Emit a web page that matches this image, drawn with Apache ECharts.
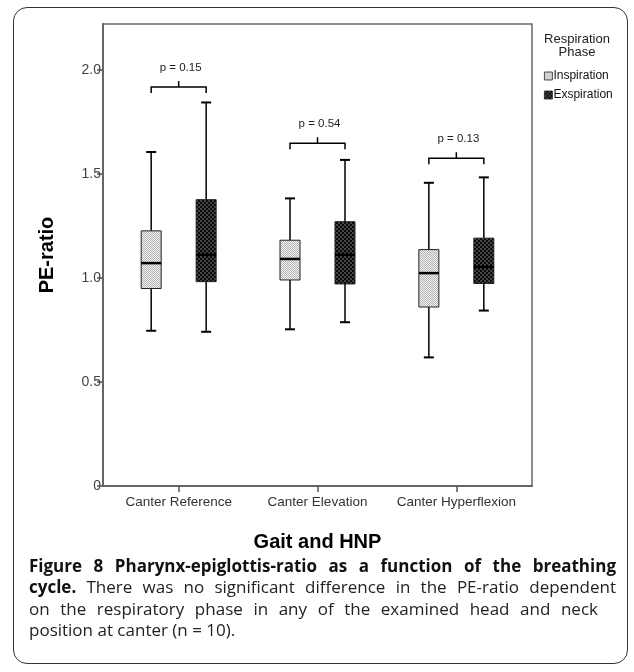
<!DOCTYPE html>
<html>
<head>
<meta charset="utf-8">
<script src="https://cdn.jsdelivr.net/npm/echarts@6/dist/echarts.min.js"></script>
<style>
  body { margin: 0; background: #fff; }
  #wrap { position: relative; width: 634px; height: 672px; background: #fff; overflow: hidden; }
  #frame { position: absolute; left: 13px; top: 7px; width: 615px; height: 657px; box-sizing: border-box;
           border: 1.5px solid #333; border-radius: 14px; }
  #chart { position: absolute; left: 0; top: 0; width: 634px; height: 672px; }
  .cap { position: absolute; left: 29px; font-family: "Open Sans", sans-serif; font-size: 17px; line-height: 21px;
         color: #222; white-space: nowrap; text-align: justify; text-align-last: justify; }
  .cap b { font-weight: 700; color: #111; }
</style>
</head>
<body>
<div id="wrap">
  <div id="frame"></div>
  <div id="chart"></div>
  <div class="cap" style="top:555px;width:587px"><b>Figure 8 Pharynx-epiglottis-ratio as a function of the breathing</b></div>
  <div class="cap" style="top:576px;width:587px"><b>cycle.</b> There was no significant difference in the PE-ratio dependent</div>
  <div class="cap" style="top:598px;width:569px">on the respiratory phase in any of the examined head and neck</div>
  <div class="cap" style="top:619px;text-align:left;text-align-last:left">position at canter (n = 10).</div>
</div>
<script>
// 分类与数据（箱线：最小值、下四分位、中位数、上四分位、最大值）
const categories = ["Canter Reference", "Canter Elevation", "Canter Hyperflexion"];
const inspiration = [
  [0.746, 0.949, 1.071, 1.226, 1.605],
  [0.753, 0.990, 1.091, 1.181, 1.382],
  [0.618, 0.860, 1.023, 1.136, 1.457],
];
const exspiration = [
  [0.741, 0.982, 1.111, 1.376, 1.843],
  [0.787, 0.971, 1.111, 1.270, 1.567],
  [0.843, 0.973, 1.053, 1.191, 1.483],
];
// p 值括号高度与文字
const bracketLevels = [1.917, 1.647, 1.575];
const pLabels = ["p = 0.15", "p = 0.54", "p = 0.13"];
const yTicks = [0, 0.5, 1.0, 1.5, 2.0];

const FONT = "Liberation Sans, Arial, sans-serif";

// 棋盘格填充
function makePattern(bg, fg, cell) {
  const cv = document.createElement("canvas");
  cv.width = cv.height = cell * 2;
  const ctx = cv.getContext("2d");
  ctx.fillStyle = bg;
  ctx.fillRect(0, 0, cell * 2, cell * 2);
  ctx.fillStyle = fg;
  ctx.fillRect(0, 0, cell, cell);
  ctx.fillRect(cell, cell, cell, cell);
  return { image: cv, repeat: "repeat" };
}
const inspFill = makePattern("#f2f2f2", "#b4b4b4", 1);
const expFill = makePattern("#080808", "#444444", 2);

const BOX_OFFSET = 0.198; // 箱体相对分类中心的偏移（x 轴单位）
const BOX_W = 20;
const CAP_W = 10;

function boxRenderer(fill, side) {
  return function (params, api) {
    const x = api.value(0);
    const off = api.size([1, 0])[0] * BOX_OFFSET * side;
    const pMin = api.coord([x, api.value(1)]);
    const pQ1 = api.coord([x, api.value(2)]);
    const pMed = api.coord([x, api.value(3)]);
    const pQ3 = api.coord([x, api.value(4)]);
    const pMax = api.coord([x, api.value(5)]);
    const cx = pMin[0] + off;
    const line = { stroke: "#000", lineWidth: 1.5 };
    return {
      type: "group",
      children: [
        { type: "line", shape: { x1: cx, y1: pMax[1], x2: cx, y2: pQ3[1] }, style: line },
        { type: "line", shape: { x1: cx, y1: pQ1[1], x2: cx, y2: pMin[1] }, style: line },
        { type: "line", shape: { x1: cx - CAP_W / 2, y1: pMax[1], x2: cx + CAP_W / 2, y2: pMax[1] }, style: { stroke: "#000", lineWidth: 2 } },
        { type: "line", shape: { x1: cx - CAP_W / 2, y1: pMin[1], x2: cx + CAP_W / 2, y2: pMin[1] }, style: { stroke: "#000", lineWidth: 2 } },
        {
          type: "rect",
          shape: { x: cx - BOX_W / 2, y: pQ3[1], width: BOX_W, height: pQ1[1] - pQ3[1] },
          style: { fill: fill, stroke: "#222", lineWidth: 1 },
        },
        { type: "line", shape: { x1: cx - BOX_W / 2, y1: pMed[1], x2: cx + BOX_W / 2, y2: pMed[1] }, style: { stroke: "#000", lineWidth: 2.5 } },
      ],
    };
  };
}

function bracketRenderer(params, api) {
  const x = api.value(0);
  const half = api.size([1, 0])[0] * BOX_OFFSET;
  const p = api.coord([x, api.value(1)]);
  const style = { stroke: "#000", lineWidth: 1.5, fill: null };
  return {
    type: "group",
    children: [
      {
        type: "polyline",
        shape: { points: [[p[0] - half, p[1] + 6], [p[0] - half, p[1]], [p[0] + half, p[1]], [p[0] + half, p[1] + 6]] },
        style: style,
      },
      { type: "line", shape: { x1: p[0], y1: p[1], x2: p[0], y2: p[1] - 6 }, style: style },
      {
        type: "text",
        x: p[0] + 2,
        y: p[1] - 19,
        style: {
          text: pLabels[params.dataIndex],
          fontFamily: FONT,
          fontSize: 11.5,
          fill: "#222",
          align: "center",
          verticalAlign: "middle",
        },
      },
    ],
  };
}

const chart = echarts.init(document.getElementById("chart"), null, { renderer: "canvas" });

const option = {
  animation: false,
  backgroundColor: "transparent",
  grid: { left: 103, right: 102, top: 24, bottom: 186, show: true, borderColor: "#6a6a6a", borderWidth: 1.5 },
  legend: {
    data: ["Inspiration", "Exspiration"],
    orient: "vertical",
    left: 544,
    top: 70,
    padding: 0,
    itemGap: 7,
    itemWidth: 8,
    itemHeight: 8,
    icon: "rect",
    itemStyle: { borderColor: "#222", borderWidth: 0.8 },
    textStyle: { fontFamily: FONT, fontSize: 12, color: "#111", padding: [0, 0, 0, -4] },
  },
  graphic: [
    {
      type: "text",
      x: 577,
      y: 33,
      style: {
        text: "Respiration\nPhase",
        fontFamily: FONT,
        fontSize: 13,
        lineHeight: 13,
        fill: "#222",
        align: "center",
      },
    },
  ],
  xAxis: {
    type: "value",
    min: -0.545,
    max: 2.545,
    name: "Gait and HNP",
    nameLocation: "middle",
    nameGap: 46,
    nameTextStyle: { fontFamily: FONT, fontSize: 20, fontWeight: "bold", color: "#000" },
    axisLine: { show: true, onZero: false, lineStyle: { color: "#666", width: 2 } },
    axisTick: { show: true, customValues: [0, 1, 2], length: 6, lineStyle: { color: "#555", width: 1.5 } },
    axisLabel: {
      customValues: [0, 1, 2],
      formatter: (v) => categories[Math.round(v)] || "",
      margin: 9,
      fontFamily: FONT,
      fontSize: 13.5,
      color: "#333",
    },
    splitLine: { show: false },
  },
  yAxis: {
    type: "value",
    min: 0,
    max: 2.22,
    name: "PE-ratio",
    nameLocation: "middle",
    nameGap: 46,
    nameTextStyle: { fontFamily: FONT, fontSize: 20, fontWeight: "bold", color: "#000" },
    axisLine: { show: true, onZero: false, lineStyle: { color: "#666", width: 2 } },
    axisTick: { show: true, customValues: yTicks, length: 6, lineStyle: { color: "#555", width: 1.5 } },
    axisLabel: {
      customValues: yTicks,
      formatter: (v) => (v === 0 ? "0" : v.toFixed(1)),
      margin: 2,
      fontFamily: FONT,
      fontSize: 14,
      color: "#444",
    },
    splitLine: { show: false },
  },
  series: [
    {
      name: "Inspiration",
      type: "custom",
      renderItem: boxRenderer(inspFill, -1),
      itemStyle: { color: inspFill },
      encode: { x: 0, y: [1, 2, 3, 4, 5] },
      data: inspiration.map((v, i) => [i].concat(v)),
    },
    {
      name: "Exspiration",
      type: "custom",
      renderItem: boxRenderer(expFill, 1),
      itemStyle: { color: expFill },
      encode: { x: 0, y: [1, 2, 3, 4, 5] },
      data: exspiration.map((v, i) => [i].concat(v)),
    },
    {
      name: "brackets",
      type: "custom",
      renderItem: bracketRenderer,
      encode: { x: 0, y: 1 },
      data: bracketLevels.map((v, i) => [i, v]),
      silent: true,
    },
  ],
};

chart.setOption(option);
</script>
</body>
</html>
